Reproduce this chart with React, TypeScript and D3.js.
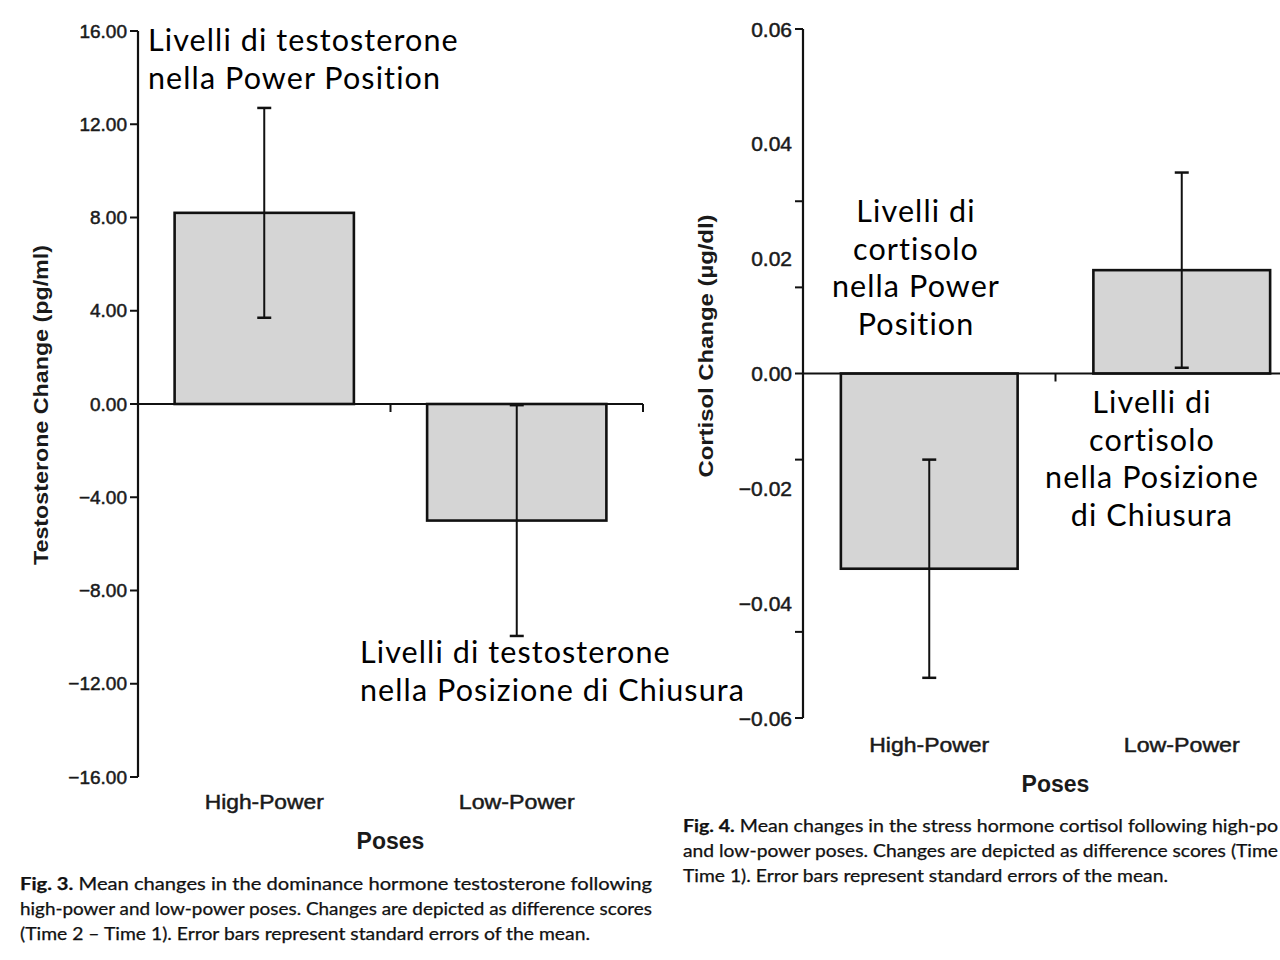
import React from "react";
import * as d3 from "d3";

const poses = ["High-Power", "Low-Power"];
const testosteroneMean = [8.2, -5.0];
const testosteroneSE = [4.5, 4.95];
const testosteroneTicks = [16, 12, 8, 4, 0, -4, -8, -12, -16];
const cortisolMean = [-0.034, 0.018];
const cortisolSE = [0.019, 0.017];
const cortisolTickLabels = [0.06, 0.04, 0.02, 0, -0.02, -0.04, -0.06];
const cortisolTickMarks = [0.06, 0.03, 0.015, 0, -0.015, -0.045, -0.06];

const caption3 = [
  ["Fig. 3.", " Mean changes in the dominance hormone testosterone following"],
  ["", "high-power and low-power poses. Changes are depicted as difference scores"],
  ["", "(Time 2 \u2013 Time 1). Error bars represent standard errors of the mean."],
];
const caption3Widths = [632, 632, 570];
const caption4 = [
  ["Fig. 4.", " Mean changes in the stress hormone cortisol following high-po"],
  ["", "and low-power poses. Changes are depicted as difference scores (Time"],
  ["", "Time 1). Error bars represent standard errors of the mean."],
];
const caption4Widths = [595, 595, 485];

const noteTestHigh = ["Livelli di testosterone", "nella Power Position"];
const noteTestLow = ["Livelli di testosterone", "nella Posizione di Chiusura"];
const noteCortHigh = ["Livelli di", "cortisolo", "nella Power", "Position"];
const noteCortLow = ["Livelli di", "cortisolo", "nella Posizione", "di Chiusura"];

const AX = "'Liberation Sans', Arial, Helvetica, sans-serif";
const NOTE = "Lato, 'Open Sans', sans-serif";
const CAP = "Lato, 'Noto Sans', sans-serif";

const fmtMinus = (s: string) => s.replace("-", "\u2212");

function Panel(props: {
  x0: number; x1: number; yTop: number; yBot: number; domain: [number, number];
  means: number[]; ses: number[]; tickLabels: number[]; tickMarks: number[];
  fmt: (v: number) => string; barFrac: number; labelY: number; posesY: number;
  titleX: number; titleY: number; title: string; titleLen: number; tickFont: number;
  labelLens: number[]; clipRight?: number;
}) {
  const y = d3.scaleLinear().domain(props.domain).range([props.yBot, props.yTop]);
  const x = d3.scaleBand<string>().domain(poses).range([props.x0, props.x1]).padding(0);
  const bw = x.bandwidth() * props.barFrac;
  const y0 = y(0);
  const axisRight = props.clipRight ?? props.x1;
  return (
    <g>
      {poses.map((p, i) => {
        const cx = (x(p) as number) + x.bandwidth() / 2;
        const m = props.means[i];
        const top = Math.min(y(m), y0);
        const h = Math.abs(y(m) - y0);
        const eTop = y(m + props.ses[i]);
        const eBot = y(m - props.ses[i]);
        return (
          <g key={p}>
            <rect x={cx - bw / 2} y={top} width={bw} height={h} fill="#d5d5d5" stroke="#111" strokeWidth={2.6} />
            <line x1={cx} x2={cx} y1={eTop} y2={eBot} stroke="#111" strokeWidth={2} />
            <line x1={cx - 7} x2={cx + 7} y1={eTop} y2={eTop} stroke="#111" strokeWidth={2.5} />
            <line x1={cx - 7} x2={cx + 7} y1={eBot} y2={eBot} stroke="#111" strokeWidth={2.5} />
            <text x={cx} y={props.labelY} textAnchor="middle" dominantBaseline="central" fontFamily={AX} fontSize={21} fill="#1a1a1a" stroke="#1a1a1a" strokeWidth={0.5} textLength={props.labelLens[i]} lengthAdjust="spacingAndGlyphs">{p}</text>
          </g>
        );
      })}
      <line x1={props.x0} x2={axisRight} y1={y0} y2={y0} stroke="#111" strokeWidth={2} />
      {poses.slice(1).map((p) => (
        <line key={p} x1={x(p) as number} x2={x(p) as number} y1={y0} y2={y0 + 8} stroke="#111" strokeWidth={2} />
      ))}
      {props.clipRight === undefined && (
        <line x1={props.x1} x2={props.x1} y1={y0} y2={y0 + 8} stroke="#111" strokeWidth={2} />
      )}
      <line x1={props.x0} x2={props.x0} y1={props.yTop} y2={props.yBot} stroke="#111" strokeWidth={2.2} />
      {props.tickMarks.map((t) => (
        <line key={"m" + t} x1={props.x0 - 8} x2={props.x0} y1={y(t)} y2={y(t)} stroke="#111" strokeWidth={2} />
      ))}
      {props.tickLabels.map((t) => (
        <text key={"l" + t} x={props.x0 - 11} y={y(t)} textAnchor="end" dominantBaseline="central" fontFamily={AX} fontSize={props.tickFont} fill="#1a1a1a" stroke="#1a1a1a" strokeWidth={0.5}>{fmtMinus(props.fmt(t))}</text>
      ))}
      <text x={(props.x0 + props.x1) / 2} y={props.posesY} textAnchor="middle" dominantBaseline="central" fontFamily={AX} fontSize={23} fontWeight="bold" fill="#1a1a1a">Poses</text>
      <text transform={`translate(${props.titleX},${props.titleY}) rotate(-90)`} textAnchor="middle" dominantBaseline="central" fontFamily={AX} fontSize={21} fontWeight="bold" fill="#1a1a1a" textLength={props.titleLen} lengthAdjust="spacingAndGlyphs">{props.title}</text>
    </g>
  );
}

function Caption(props: { x: number; y: number; lines: string[][]; widths: number[] }) {
  return (
    <g fontFamily={CAP} fontSize={16.5} fill="#111" stroke="#111" strokeWidth={0.25}>
      {props.lines.map((ln, i) => (
        <text key={i} x={props.x} y={props.y + i * 25} textLength={props.widths[i]} lengthAdjust="spacingAndGlyphs">
          {ln[0] && <tspan fontWeight="bold">{ln[0]}</tspan>}
          <tspan>{ln[1]}</tspan>
        </text>
      ))}
    </g>
  );
}

function Note(props: { x: number; y: number; lines: string[]; anchor: "start" | "middle" }) {
  return (
    <g fontFamily={NOTE} fontSize={30.5} fill="#000" letterSpacing={1.1}>
      {props.lines.map((l, i) => (
        <text key={i} x={props.x} y={props.y + i * 37.5} textAnchor={props.anchor}>{l}</text>
      ))}
    </g>
  );
}

export default function App() {
  return (
    <svg width={1280} height={960} style={{ position: "absolute", left: 0, top: 0, background: "#fff" }}>
      <rect width={1280} height={960} fill="#fff" />
      <Panel x0={138} x1={643} yTop={31} yBot={777} domain={[-16, 16]}
        means={testosteroneMean} ses={testosteroneSE}
        tickLabels={testosteroneTicks} tickMarks={testosteroneTicks}
        fmt={d3.format(".2f")} barFrac={0.71} labelY={801} posesY={841}
        titleX={40} titleY={405} title="Testosterone Change (pg/ml)" titleLen={320} tickFont={19}
        labelLens={[119, 116]} />
      <Panel x0={803} x1={1308} yTop={29} yBot={718} domain={[-0.06, 0.06]}
        means={cortisolMean} ses={cortisolSE}
        tickLabels={cortisolTickLabels} tickMarks={cortisolTickMarks}
        fmt={d3.format(".2f")} barFrac={0.70} labelY={744} posesY={784}
        titleX={705} titleY={346} title="Cortisol Change (µg/dl)" titleLen={263} tickFont={21}
        labelLens={[120, 116]} clipRight={1280} />
      <Caption x={20} y={890} lines={caption3} widths={caption3Widths} />
      <Caption x={683} y={832} lines={caption4} widths={caption4Widths} />
      <Note x={148} y={51} lines={noteTestHigh} anchor="start" />
      <Note x={360} y={663} lines={noteTestLow} anchor="start" />
      <Note x={916} y={222} lines={noteCortHigh} anchor="middle" />
      <Note x={1152} y={413} lines={noteCortLow} anchor="middle" />
    </svg>
  );
}
